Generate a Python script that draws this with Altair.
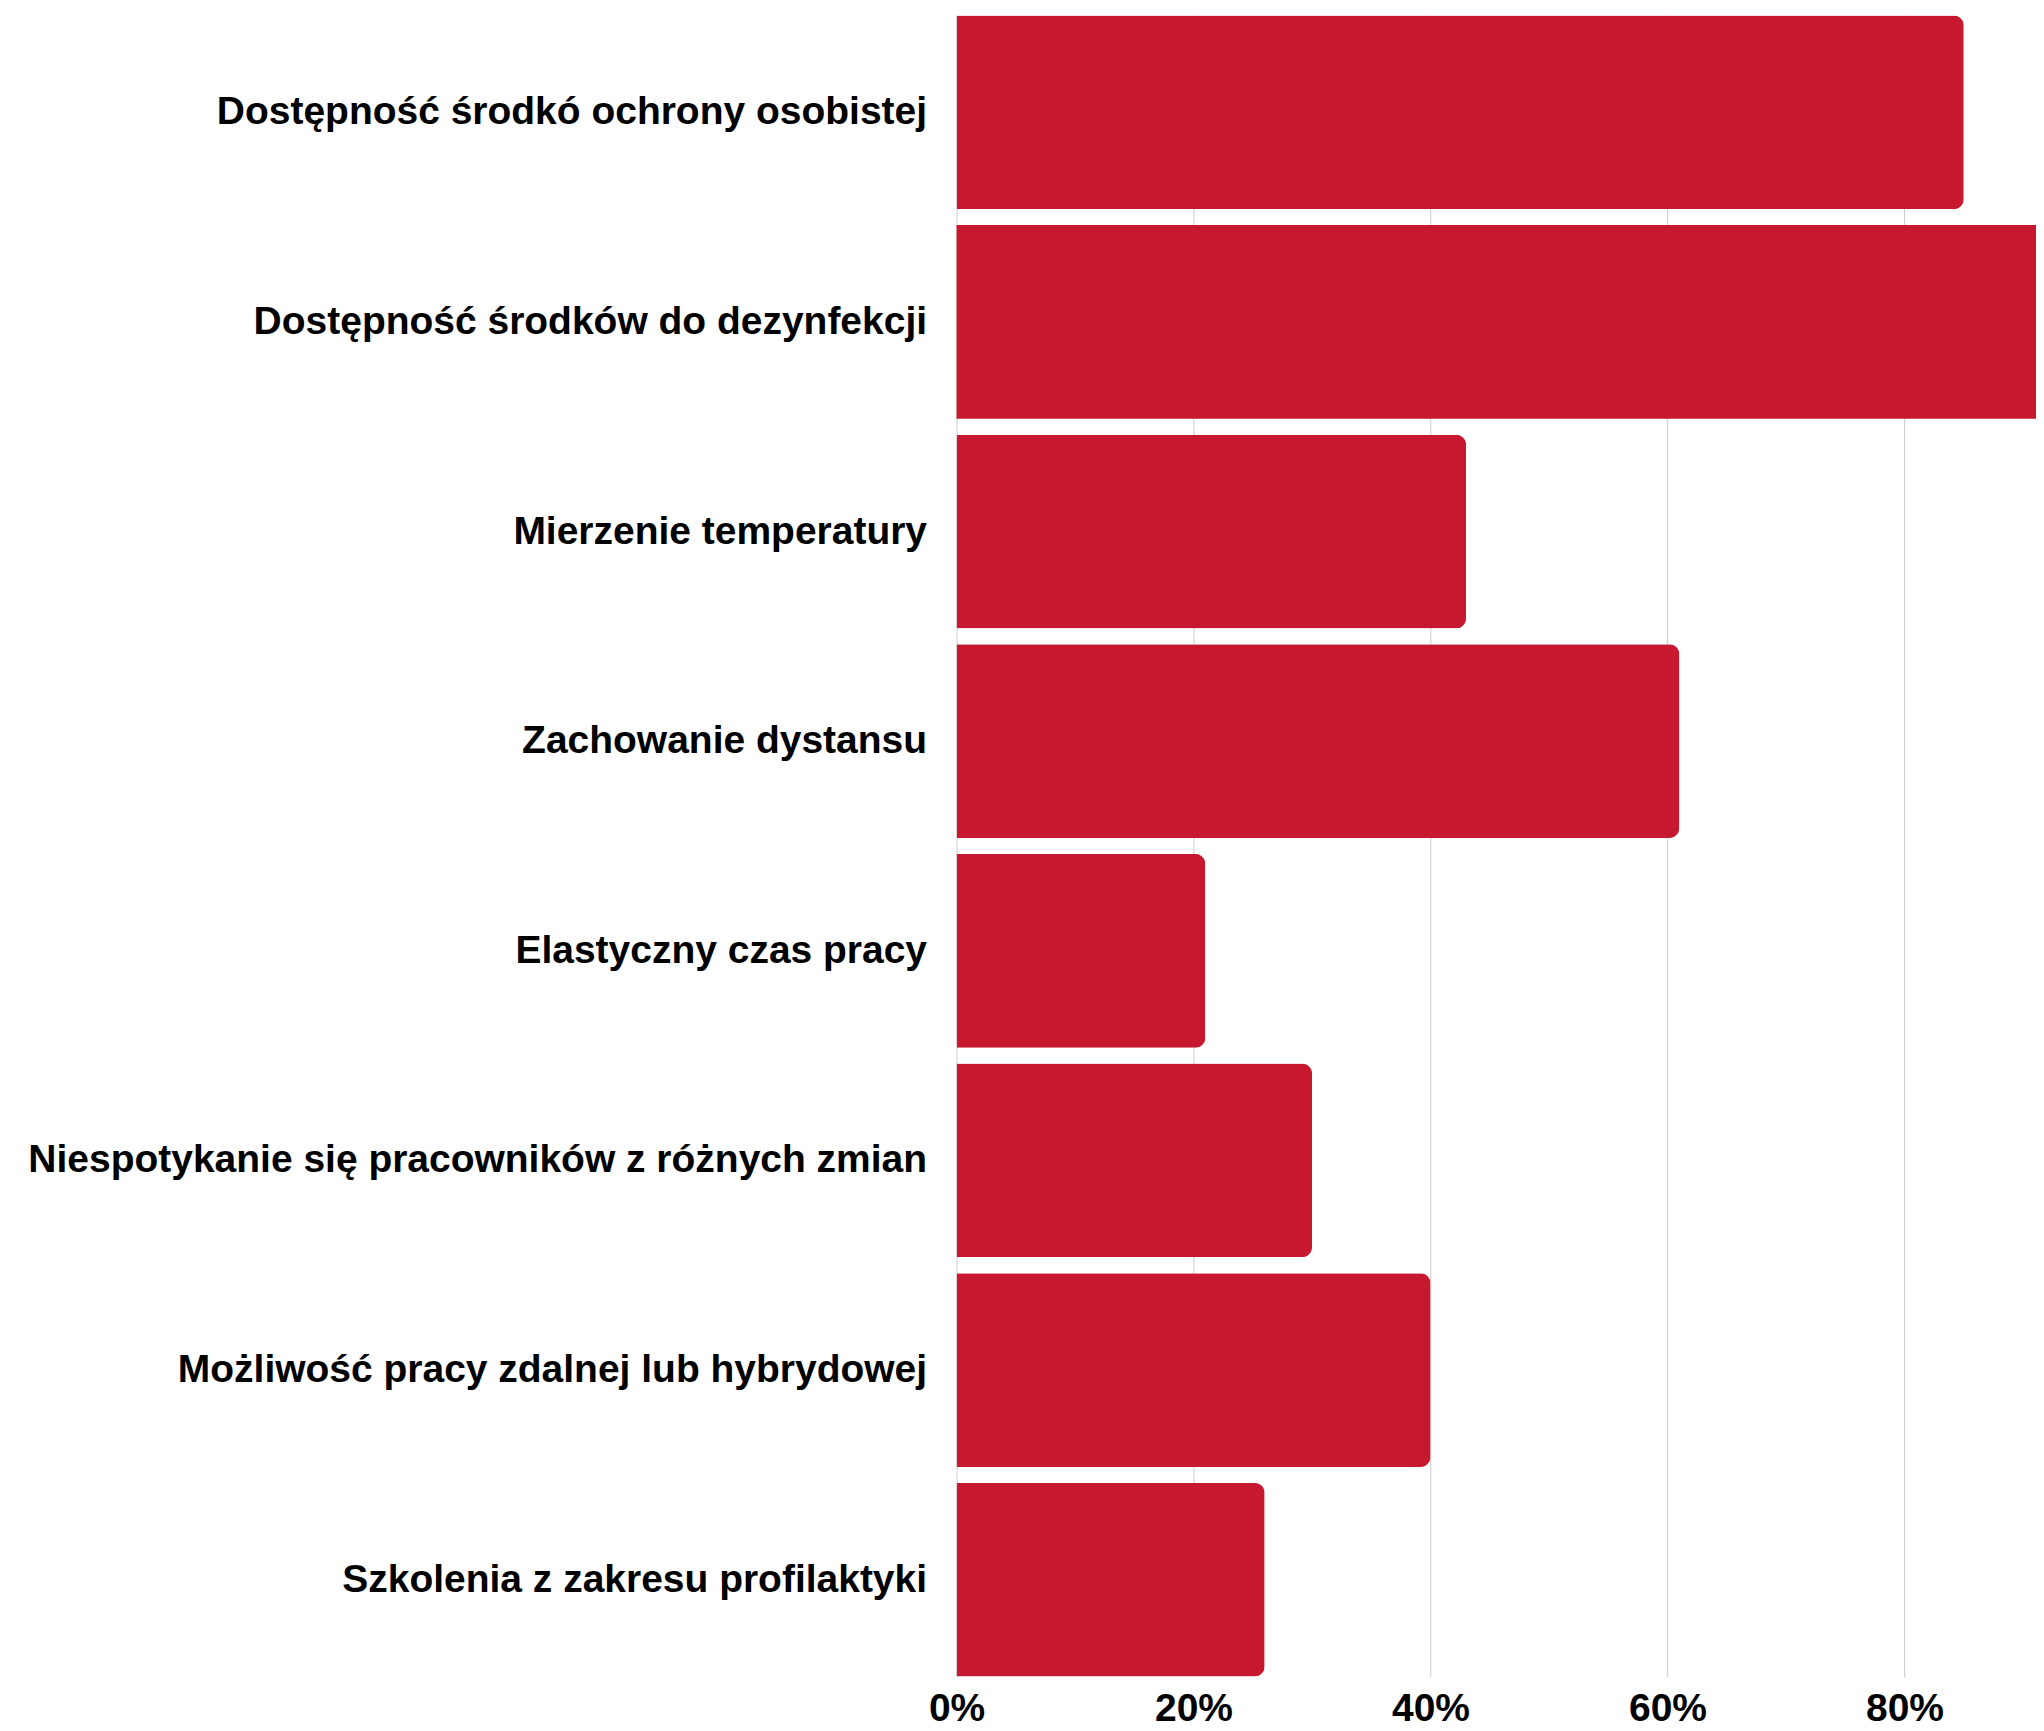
import altair as alt
import pandas as pd

categories = [
    "Dostępność środkó ochrony osobistej",
    "Dostępność środków do dezynfekcji",
    "Mierzenie temperatury",
    "Zachowanie dystansu",
    "Elastyczny czas pracy",
    "Niespotykanie się pracowników z różnych zmian",
    "Możliwość pracy zdalnej lub hybrydowej",
    "Szkolenia z zakresu profilaktyki",
]
values = [85, 96, 43, 61, 21, 30, 40, 26]
tick_values = [0, 20, 40, 60, 80]
x_max = 91.1

df = pd.DataFrame({"cat": categories, "val": values})

y_enc = alt.Y(
    "cat:N",
    sort=categories,
    title=None,
    scale=alt.Scale(paddingInner=0.076, paddingOuter=0),
    axis=alt.Axis(
        domain=False,
        ticks=False,
        labelFont="Liberation Sans",
        labelFontWeight="bold",
        labelFontSize=39,
        labelColor="#000000",
        labelPadding=30,
        labelLimit=1000,
    ),
)
x_enc = alt.X(
    "val:Q",
    title=None,
    scale=alt.Scale(domain=[0, x_max], nice=False, zero=True, clamp=True),
    axis=alt.Axis(
        values=tick_values,
        domain=False,
        ticks=False,
        grid=True,
        gridColor="#cccccc",
        gridWidth=1,
        labelExpr="datum.value + '%'",
        labelFont="Liberation Sans",
        labelFontWeight="bold",
        labelFontSize=39,
        labelColor="#000000",
        labelPadding=13,
        labelFlush=False,
    ),
)

base = alt.Chart(df).encode(y=y_enc, x=x_enc)

inside = base.transform_filter(alt.datum.val <= x_max).mark_bar(
    color="#C6182F", cornerRadiusEnd=10
)
outside = base.transform_filter(alt.datum.val > x_max).mark_bar(color="#C6182F")

chart = (
    alt.layer(inside, outside)
    .properties(
        width=1080,
        height=1662,
        autosize=alt.AutoSizeParams(type="none"),
        padding={"left": 949, "top": 7, "right": 0, "bottom": 51},
    )
    .configure_view(stroke=None)
)

chart.save("out.html", embed_options={"renderer": "svg", "actions": False})
